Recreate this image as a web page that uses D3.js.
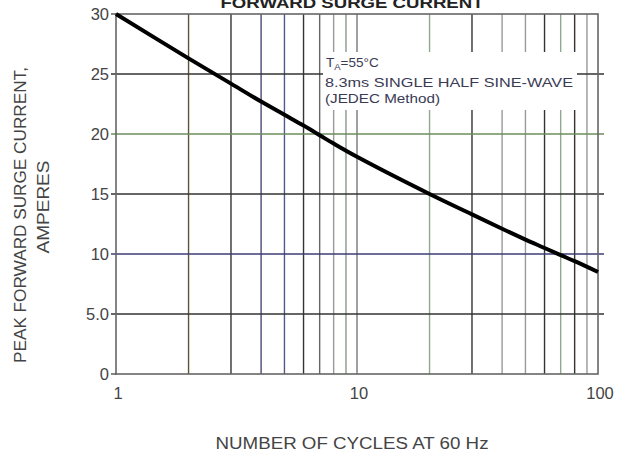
<!DOCTYPE html>
<html>
<head>
<meta charset="utf-8">
<script src="https://cdn.jsdelivr.net/npm/d3@7"></script>
<style>
  body { margin: 0; background: #fff; }
  text { font-family: "Liberation Sans", Arial, sans-serif; }
</style>
</head>
<body>
<div id="chart"></div>
<script>
// curve: cycles -> peak surge current (A)
var cycles = [1, 2, 3, 4, 5, 6, 7, 8, 10, 20, 30, 40, 50, 60, 70, 80, 100];
var amps = [30, 26.3, 24.2, 22.7, 21.6, 20.7, 19.9, 19.2, 18.1, 15.0, 13.3, 12.1, 11.2, 10.5, 9.9, 9.4, 8.5];

var yTicks = [0, 5, 10, 15, 20, 25, 30];
var yTickLabels = ["0", "5.0", "10", "15", "20", "25", "30"];
var xTicks = [1, 10, 100];
var xGrid = [2, 3, 4, 5, 6, 7, 8, 9, 10, 20, 30, 40, 50, 60, 70, 80, 90];
var xGridColors = ["#5b5535", "#333", "#4a4a7a", "#56568a", "#333", "#666", "#999", "#8a9a8a", "#777",
  "#8fa88f", "#333", "#999", "#999", "#333", "#8fa88f", "#333", "#999"];
var yGridColors = { 5: "#333", 10: "#3c3c78", 15: "#333", 20: "#6c8c5c", 25: "#333" };
var noteLines = ["8.3ms SINGLE HALF SINE-WAVE", "(JEDEC Method)"];
var noteWidths = [248, 115];

var width = 627, height = 454;
var margin = { top: 14, right: 29, bottom: 80, left: 116 };

var svg = d3.select("#chart")
  .append("svg")
  .attr("width", width)
  .attr("height", height);

var x = d3.scaleLog()
  .domain([1, 100])
  .range([margin.left, width - margin.right]);
var y = d3.scaleLinear()
  .domain([0, 30])
  .range([height - margin.bottom, margin.top]);

// vertical grid
svg.append("g")
  .selectAll("line")
  .data(xGrid)
  .enter()
  .append("line")
  .attr("x1", function(d) { return x(d); })
  .attr("x2", function(d) { return x(d); })
  .attr("y1", y(0))
  .attr("y2", y(30))
  .attr("stroke", function(d, i) { return xGridColors[i]; })
  .attr("stroke-width", 1.4);

// horizontal grid
svg.append("g")
  .selectAll("line")
  .data([5, 10, 15, 20, 25])
  .enter()
  .append("line")
  .attr("x1", x(1) - 5)
  .attr("x2", x(100) + 6)
  .attr("y1", function(d) { return y(d); })
  .attr("y2", function(d) { return y(d); })
  .attr("stroke", function(d) { return yGridColors[d]; })
  .attr("stroke-width", 1.4);

// frame
svg.append("rect")
  .attr("x", x(1))
  .attr("y", y(30))
  .attr("width", x(100) - x(1))
  .attr("height", y(0) - y(30))
  .attr("fill", "none")
  .attr("stroke", "#666")
  .attr("stroke-width", 1.6);
svg.append("line")
  .attr("x1", x(1) - 5).attr("x2", x(1))
  .attr("y1", y(0)).attr("y2", y(0))
  .attr("stroke", "#444").attr("stroke-width", 1.3);
svg.append("line")
  .attr("x1", x(1) - 5).attr("x2", x(1))
  .attr("y1", y(30)).attr("y2", y(30))
  .attr("stroke", "#444").attr("stroke-width", 1.3);

// note box, white so the grid stops behind it
svg.append("rect")
  .attr("x", 323)
  .attr("y", 52)
  .attr("width", 254)
  .attr("height", 58)
  .attr("fill", "#fff");

// the curve
svg.append("path")
  .datum(cycles)
  .attr("fill", "none")
  .attr("stroke", "#000")
  .attr("stroke-width", 4)
  .attr("d", d3.line()
    .curve(d3.curveCatmullRom)
    .x(function(d) { return x(d); })
    .y(function(d, i) { return y(amps[i]); }));

// y tick labels
svg.append("g")
  .selectAll("text")
  .data(yTicks)
  .enter()
  .append("text")
  .attr("x", x(1) - 7)
  .attr("y", function(d) { return y(d) + 6; })
  .attr("text-anchor", "end")
  .attr("font-size", "16.5px")
  .attr("fill", "#444")
  .text(function(d, i) { return yTickLabels[i]; });

// x tick labels
svg.append("g")
  .selectAll("text")
  .data(xTicks)
  .enter()
  .append("text")
  .attr("x", function(d) { return x(d) + 2; })
  .attr("y", 399)
  .attr("text-anchor", "middle")
  .attr("font-size", "16.5px")
  .attr("fill", "#444")
  .text(function(d) { return d; });

// title (cut off at the top, as in the picture)
svg.append("text")
  .attr("x", 352)
  .attr("y", 8)
  .attr("text-anchor", "middle")
  .attr("font-size", "15px")
  .attr("font-weight", "bold")
  .attr("fill", "#222")
  .attr("textLength", 263)
  .attr("lengthAdjust", "spacingAndGlyphs")
  .text("FORWARD SURGE CURRENT");

// note
var note = svg.append("text")
  .attr("x", 326)
  .attr("y", 67)
  .attr("font-size", "13.5px")
  .attr("fill", "#3a3a55");
note.append("tspan").text("T");
note.append("tspan").attr("font-size", "9.5px").attr("dy", 3).text("A");
note.append("tspan").attr("dy", -3).text("=55°C");
svg.append("g")
  .selectAll("text")
  .data(noteLines)
  .enter()
  .append("text")
  .attr("x", 325)
  .attr("y", function(d, i) { return 87 + i * 16; })
  .attr("font-size", "13.5px")
  .attr("fill", "#3a3a55")
  .attr("textLength", function(d, i) { return noteWidths[i]; })
  .attr("lengthAdjust", "spacingAndGlyphs")
  .text(function(d) { return d; });

// axis titles
svg.append("text")
  .attr("text-anchor", "middle")
  .attr("transform", "translate(26,215)rotate(-90)")
  .attr("font-size", "16px")
  .attr("fill", "#444")
  .attr("textLength", 296)
  .attr("lengthAdjust", "spacingAndGlyphs")
  .text("PEAK FORWARD SURGE CURRENT,");
svg.append("text")
  .attr("text-anchor", "middle")
  .attr("transform", "translate(49,207)rotate(-90)")
  .attr("font-size", "16px")
  .attr("fill", "#444")
  .attr("textLength", 93)
  .attr("lengthAdjust", "spacingAndGlyphs")
  .text("AMPERES");
svg.append("text")
  .attr("text-anchor", "middle")
  .attr("x", 352)
  .attr("y", 449)
  .attr("font-size", "16px")
  .attr("fill", "#444")
  .attr("textLength", 273)
  .attr("lengthAdjust", "spacingAndGlyphs")
  .text("NUMBER OF CYCLES AT 60 Hz");
</script>
</body>
</html>
